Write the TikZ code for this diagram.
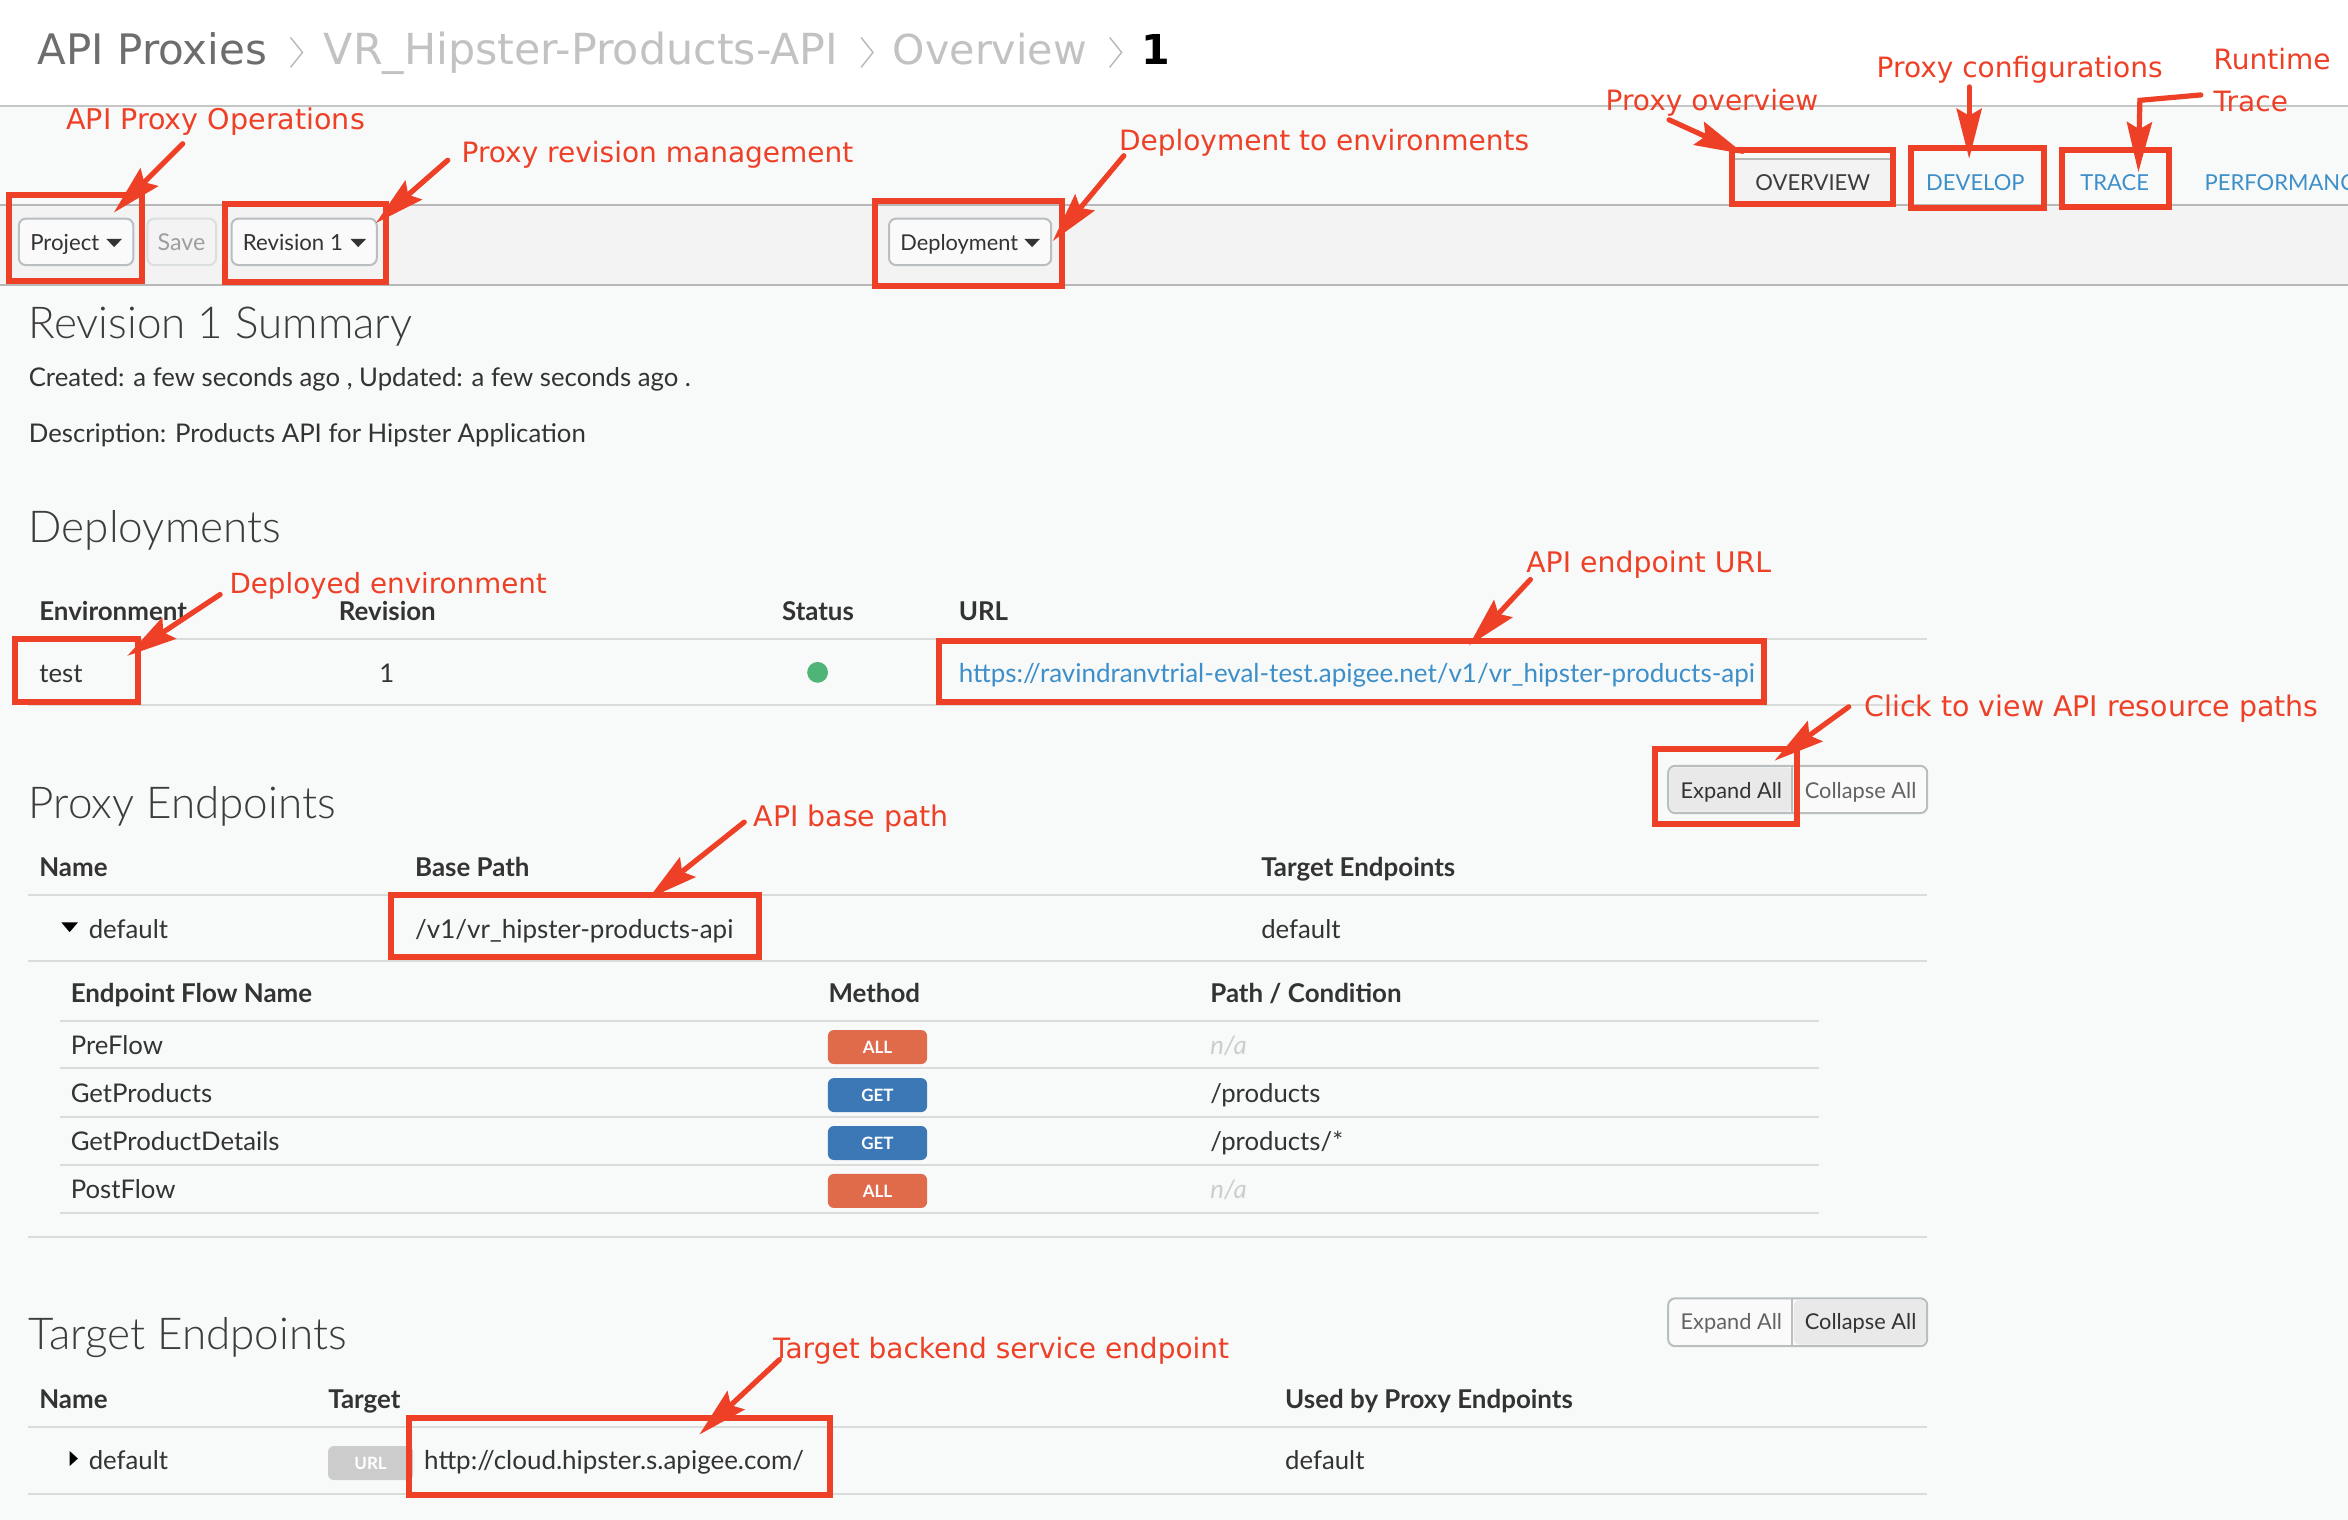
\documentclass[tikz,border=0pt]{standalone}
\usepackage{fontspec}
\usetikzlibrary{arrows.meta,shapes.geometric}
\setmainfont{Lato}
\newfontfamily\lightf{Lato Light}
\newfontfamily\annot{DejaVu Sans}
\newfontfamily\crumb{DejaVu Sans}
\definecolor{pagebg}{HTML}{F8F9F9}
\definecolor{band}{HTML}{F3F3F3}
\definecolor{bandline}{HTML}{B8B8B8}
\definecolor{rowline}{HTML}{DADCDC}
\definecolor{txt}{HTML}{333333}
\definecolor{heading}{HTML}{3C3C3C}
\definecolor{red1}{HTML}{EE4027}
\definecolor{link}{HTML}{3D8FC9}
\definecolor{allc}{HTML}{DF6B4B}
\definecolor{getc}{HTML}{3C78B5}
\definecolor{urlc}{HTML}{CCCCCC}
\definecolor{btnline}{HTML}{B9BEC1}
\definecolor{dotc}{HTML}{4FB477}
\tikzset{
  body/.style={anchor=base west,inner sep=0pt,text=txt,font=\fontsize{12.87}{16}\selectfont},
  bodyw/.style={body,font=\fontsize{12.98}{16}\selectfont},
  bodyb/.style={body,font=\fontsize{12.95}{16}\selectfont\bfseries},
  nas/.style={body,text=urlc,font=\fontsize{12.87}{16}\selectfont\itshape},
  head/.style={anchor=base west,inner sep=0pt,text=heading,font=\lightf\fontsize{22}{26}\selectfont},
  tab/.style={anchor=base west,inner sep=0pt,text=link,font=\fontsize{11}{14}\selectfont},
  btntext/.style={anchor=base west,inner sep=0pt,text=txt,font=\fontsize{11.1}{14}\selectfont},
  grptext/.style={anchor=base west,inner sep=0pt,text=txt,font=\fontsize{10.9}{14}\selectfont},
  note/.style={anchor=base west,inner sep=0pt,text=red1,font=\annot\fontsize{14}{17}\selectfont},
  crumbt/.style={anchor=base west,inner sep=0pt,font=\crumb\fontsize{21}{26}\selectfont},
  btn/.style={draw=btnline,line width=1pt,rounded corners=3.5pt,fill=white!60!band},
  badge/.style={rounded corners=3pt,minimum width=49.6pt,minimum height=17pt,inner sep=0pt,text=white,font=\fontsize{8.5}{10}\selectfont\bfseries},
  redbox/.style={draw=red1,line width=3pt,fill=none},
  callout/.style={draw=red1,line width=2.6pt,line cap=round,-{Stealth[length=25pt,width=12.5pt,inset=3.5pt]}},
  rowrule/.style={draw=rowline,line width=1pt},
  bandrule/.style={draw=bandline,line width=1pt},
  chev/.style={draw=bandline,line width=.7pt}
}
\begin{document}
\begin{tikzpicture}[x=0.74872pt,y=-0.74872pt]
\useasboundingbox (0,0) rectangle (1568,1015);
\clip (0,0) rectangle (1568,1015);
% page
\fill[white] (0,0) rectangle (1568,71);
\fill[pagebg] (0,71) rectangle (1568,1015);
\fill[band] (0,137) rectangle (1568,190);
\draw[draw=bandline!80!white,line width=1pt] (0,71) -- (1568,71);
\draw[bandrule] (0,137) -- (1568,137);
\draw[bandrule] (0,190) -- (1568,190);
% breadcrumb
\node[crumbt,text=heading!75!white] (c1) at (25,43) {API Proxies};
\node[crumbt,text=urlc!95!black,font=\crumb\fontsize{21.4}{26}\selectfont] (c2) at (216,43) {VR\_Hipster-Products-API};
\node[crumbt,text=urlc!95!black,font=\crumb\fontsize{20.6}{26}\selectfont] (c3) at (596,43) {Overview};
\node[crumbt,text=black,font=\crumb\fontsize{20.6}{26}\selectfont\bfseries] (c4) at (762,43) {1};
\draw[chev] (194,25) -- (202,35) -- (194,45);
\draw[chev] (575,25) -- (583,35) -- (575,45);
\draw[chev] (741,25) -- (749,35) -- (741,45);
% tabs
\fill[band] (1158,106) rectangle (1263,137);
\draw[bandrule] (1158,106) -- (1263,106);
\node[tab,text=heading] (t1) at (1172,127) {OVERVIEW};
\node[tab] (t2) at (1286,127) {DEVELOP};
\node[tab] (t3) at (1389,127) {TRACE};
\node[tab] (t4) at (1472,127) {PERFORMANCE};
% toolbar buttons
\draw[btn] (12.6,146) rectangle (89,177);
\node[btntext] (b1) at (20,167) {Project};
\fill[txt] (71,159.5) -- (81.5,159.5) -- (76.2,165) -- cycle;
\draw[btn,draw=btnline!50!white,fill=band] (98.4,146) rectangle (144.3,177);
\node[btntext,text=black!38,font=\fontsize{11.6}{14}\selectfont] (b2) at (105,167) {Save};
\draw[btn] (154.6,146) rectangle (251.6,177);
\node[btntext] (b3) at (162,167) {Revision 1};
\fill[txt] (234,159.5) -- (244.5,159.5) -- (239.2,165) -- cycle;
\draw[btn] (593.7,146) rectangle (702,177);
\node[btntext,font=\fontsize{10.9}{14}\selectfont] (b4) at (601,167) {Deployment};
\fill[txt] (684,159.5) -- (694.5,159.5) -- (689.2,165) -- cycle;
% summary
\node[head] (h1) at (19,226) {Revision 1 Summary};
\node[body] (s1) at (19,258.4) {Created: a few seconds ago , Updated: a few seconds ago .};
\node[body] (s2) at (19,295.5) {Description: Products API for Hipster Application};
% deployments
\node[head] (h2) at (19,362) {Deployments};
\node[bodyb] (d1) at (26,414.4) {Environment};
\node[bodyb] (d2) at (226,414.4) {Revision};
\node[bodyb] (d3) at (522,414.4) {Status};
\node[bodyb] (d4) at (640,414.4) {URL};
\draw[rowrule] (19,427) -- (1287,427);
\draw[rowrule] (19,471) -- (1287,471);
\node[body] (d5) at (26,455.5) {test};
\node[body] (d6) at (253,455.5) {1};
\node[circle,fill=dotc,minimum size=10.4pt,inner sep=0pt] (d7) at (546,449) {};
\node[bodyw,text=link] (d8) at (640,455.5) {https://ravindranvtrial-eval-test.apigee.net/v1/vr\_hipster-products-api};
% proxy endpoints
\node[head] (h3) at (19,546.5) {Proxy Endpoints};
\draw[btn] (1114,511.4) rectangle (1287,543);
\fill[band!96!black,rounded corners=3pt] (1115,512.4) rectangle (1197,542);
\draw[draw=btnline,line width=1pt] (1197,512) -- (1197,543);
\node[grptext] (e1) at (1122,533) {Expand All};
\node[grptext,text=heading!80!white] (e2) at (1205,533) {Collapse All};
\node[bodyb] (p1) at (26,585.4) {Name};
\node[bodyb] (p2) at (277,585.4) {Base Path};
\node[bodyb] (p3) at (842,585.4) {Target Endpoints};
\draw[rowrule] (19,598) -- (1287,598);
\fill[black] (41,616) -- (52,616) -- (46.5,622.5) -- cycle;
\node[body] (p4) at (59,626.5) {default};
\node[bodyw] (p5) at (277,626.5) {/v1/vr\_hipster-products-api};
\node[body] (p6) at (842,626.5) {default};
\draw[rowrule] (19,641.5) -- (1287,641.5);
% flows
\node[bodyb] (f1) at (47,669.5) {Endpoint Flow Name};
\node[bodyb] (f2) at (553,669.5) {Method};
\node[bodyb] (f3) at (808,669.5) {Path / Condition};
\draw[rowrule] (40,681.5) -- (1215,681.5);
\node[body] (f4) at (47,704) {PreFlow};
\node[badge,fill=allc] (f5) at (586,699.2) {ALL};
\node[nas] (f6) at (808,704) {n/a};
\draw[rowrule] (40,713.5) -- (1215,713.5);
\node[body] (f7) at (47,736) {GetProducts};
\node[badge,fill=getc] (f8) at (586,731.3) {GET};
\node[body] (f9) at (808,736) {/products};
\draw[rowrule] (40,745.7) -- (1215,745.7);
\node[body] (f10) at (47,768) {GetProductDetails};
\node[badge,fill=getc] (f11) at (586,763.3) {GET};
\node[body] (f12) at (808,768) {/products/*};
\draw[rowrule] (40,777.8) -- (1215,777.8);
\node[body] (f13) at (47,800.4) {PostFlow};
\node[badge,fill=allc] (f14) at (586,795.3) {ALL};
\node[nas] (f15) at (808,800.4) {n/a};
\draw[rowrule] (40,809.8) -- (1215,809.8);
\draw[rowrule] (19,825.8) -- (1287,825.8);
% target endpoints
\node[head] (h4) at (19,901.5) {Target Endpoints};
\draw[btn] (1114,867) rectangle (1287,899);
\fill[band!96!black,rounded corners=3pt] (1198,868) rectangle (1286,898);
\draw[draw=btnline,line width=1pt] (1197,867) -- (1197,899);
\node[grptext,text=heading!80!white] (g1) at (1122,888) {Expand All};
\node[grptext] (g2) at (1205,888) {Collapse All};
\node[bodyb] (u1) at (26,940.5) {Name};
\node[bodyb] (u2) at (219,940.5) {Target};
\node[bodyb] (u3) at (858,940.5) {Used by Proxy Endpoints};
\draw[rowrule] (19,953) -- (1287,953);
\fill[black] (46.5,969) -- (52,974) -- (46.5,979) -- cycle;
\node[body] (u4) at (59,981.5) {default};
\node[badge,fill=urlc,minimum width=42.6pt] (u5) at (247.5,977) {URL};
\node[bodyw] (u6) at (283,981.5) {http://cloud.hipster.s.apigee.com/};
\node[body] (u7) at (858,981.5) {default};
\draw[rowrule] (19,998) -- (1287,998);
% red boxes
\draw[redbox] (6,130) rectangle (94.5,187.5);
\draw[redbox] (150,136) rectangle (258,188);
\draw[redbox] (584,134.5) rectangle (709,191);
\draw[redbox] (1156.5,100.5) rectangle (1264,136);
\draw[redbox] (1276,99) rectangle (1365,139);
\draw[redbox] (1377,100) rectangle (1448.5,138.5);
\draw[redbox] (10,427) rectangle (92,469);
\draw[redbox] (627,428) rectangle (1178,469);
\draw[redbox] (1105,500.5) rectangle (1200,550.5);
\draw[redbox] (261,598) rectangle (507,639);
\draw[redbox] (273,947) rectangle (554,998.6);
% labels
\node[note,font=\annot\fontsize{14.28}{17}\selectfont] (n1) at (44,86.5) {API Proxy Operations};
\node[note] (n2) at (308,108.5) {Proxy revision management};
\node[note] (n3) at (747,100.5) {Deployment to environments};
\node[note] (n4) at (1072,73.5) {Proxy overview};
\node[note] (n5) at (1253,51.5) {Proxy configurations};
\node[note] (n6) at (1478,46.5) {Runtime};
\node[note] (n6b) at (1478,74.5) {Trace};
\node[note,font=\annot\fontsize{13.87}{17}\selectfont] (n7) at (153,396.5) {Deployed environment};
\node[note,font=\annot\fontsize{14.17}{17}\selectfont] (n8) at (1019,382) {API endpoint URL};
\node[note,font=\annot\fontsize{14.2}{17}\selectfont] (n9) at (1245,478.5) {Click to view API resource paths};
\node[note,font=\annot\fontsize{14.2}{17}\selectfont] (n10) at (503,552) {API base path};
\node[note] (n11) at (516,907.5) {Target backend service endpoint};
% callout ends
\coordinate (a1s) at (122,96);   \coordinate (a1t) at (76,142);
\coordinate (a2s) at (299,107);  \coordinate (a2t) at (251,149);
\coordinate (a3s) at (750.5,104);\coordinate (a3t) at (703,161);
\coordinate (a4s) at (1114.6,80);\coordinate (a4t) at (1165,103);
\coordinate (a5s) at (1315,58);  \coordinate (a5t) at (1315,106);
\coordinate (a6s) at (1469.7,63.4);\coordinate (a6b) at (1429,67);\coordinate (a6t) at (1428,115);
\coordinate (a7s) at (147,397);  \coordinate (a7t) at (85,438);
\coordinate (a8s) at (1022,387); \coordinate (a8t) at (981,431);
\coordinate (a9s) at (1234.6,472);\coordinate (a9t) at (1185,508);
\coordinate (a10s) at (497,549); \coordinate (a10t) at (433,600);
\coordinate (a11s) at (520.5,908);\coordinate (a11t) at (467,958);
\draw[callout] (a1s) -- (a1t);
\draw[callout] (a2s) -- (a2t);
\draw[callout] (a3s) -- (a3t);
\draw[callout] (a4s) -- (a4t);
\draw[callout] (a5s) -- (a5t);
\draw[callout] (a6s) -- (a6b) -- (a6t);
\draw[callout] (a7s) -- (a7t);
\draw[callout] (a8s) -- (a8t);
\draw[callout] (a9s) -- (a9t);
\draw[callout] (a10s) -- (a10t);
\draw[callout] (a11s) -- (a11t);
\end{tikzpicture}
\end{document}
